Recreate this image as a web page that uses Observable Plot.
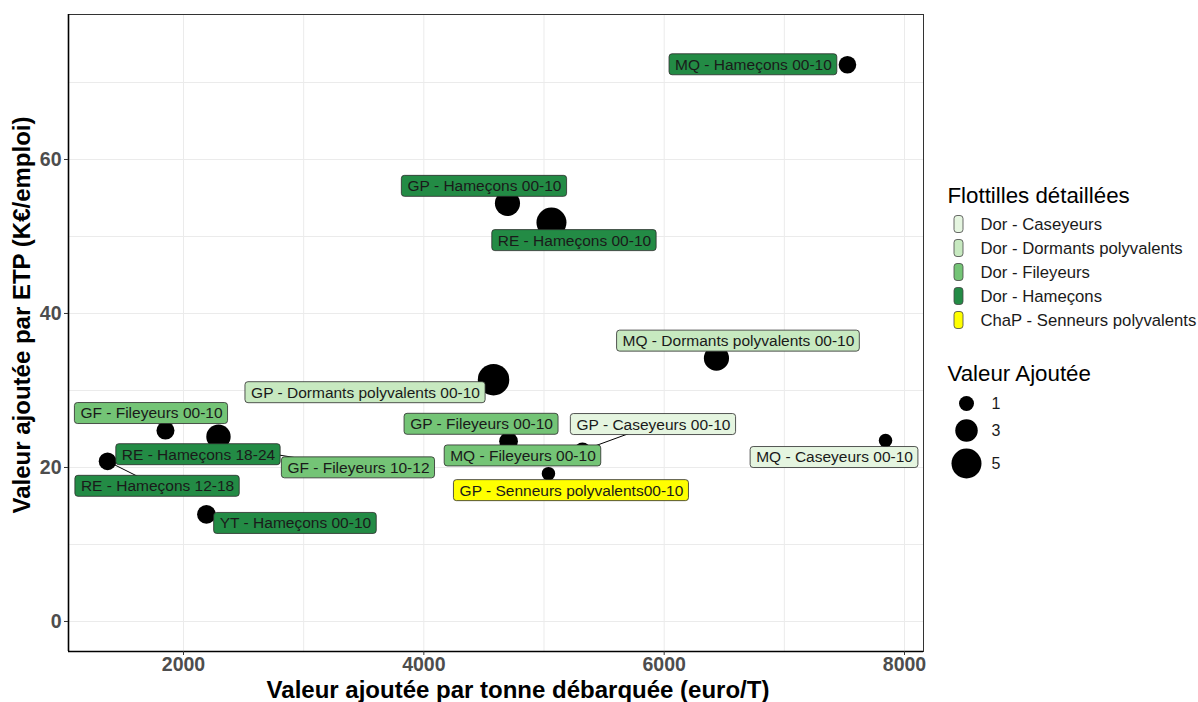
<!DOCTYPE html>
<html>
<head>
<meta charset="utf-8">
<script src="https://cdn.jsdelivr.net/npm/d3@7"></script>
<script src="https://cdn.jsdelivr.net/npm/@observablehq/plot@0.6"></script>
<style>
  body { margin: 0; background: #fff; }
  svg { font-family: "Liberation Sans", Arial, sans-serif; display: block; }
</style>
</head>
<body>
<div id="chart"></div>
<script>
// ---------- data ----------
const flottilles = [
  "MQ - Hameçons 00-10", "GP - Hameçons 00-10", "RE - Hameçons 00-10",
  "MQ - Dormants polyvalents 00-10", "GP - Dormants polyvalents 00-10",
  "GF - Fileyeurs 00-10", "RE - Hameçons 18-24", "GF - Fileyeurs 10-12",
  "RE - Hameçons 12-18", "YT - Hameçons 00-10", "GP - Fileyeurs 00-10",
  "GP - Caseyeurs 00-10", "MQ - Fileyeurs 00-10",
  "GP - Senneurs polyvalents00-10", "MQ - Caseyeurs 00-10"
];
const groupes = [
  "Dor - Hameçons", "Dor - Hameçons", "Dor - Hameçons",
  "Dor - Dormants polyvalents", "Dor - Dormants polyvalents",
  "Dor - Fileyeurs", "Dor - Hameçons", "Dor - Fileyeurs",
  "Dor - Hameçons", "Dor - Hameçons", "Dor - Fileyeurs",
  "Dor - Caseyeurs", "Dor - Fileyeurs",
  "ChaP - Senneurs polyvalents", "Dor - Caseyeurs"
];
const vaParTonne = [7525, 4696, 5062, 6435, 4580, 1850, 2291, 2682, 1368, 2191, 4705, 5320, 4800, 5037, 7842];
const vaParEtp   = [72.3, 54.3, 51.8, 34.2, 31.4, 24.8, 24.0, 21.9, 20.8, 13.9, 23.4, 22.2, 21.5, 19.2, 23.5];
const valeurAjoutee = [1.7, 3.7, 5.0, 3.7, 5.4, 1.8, 3.5, 0.8, 1.7, 2.0, 2.0, 1.3, 1.2, 0.6, 0.6];

const legendGroups = ["Dor - Caseyeurs", "Dor - Dormants polyvalents", "Dor - Fileyeurs", "Dor - Hameçons", "ChaP - Senneurs polyvalents"];
const groupColors = ["#e5f5e0", "#c7e9c0", "#74c476", "#238b45", "#ffff00"];
const sizeBreaks = [1, 3, 5];
const xTicks = [2000, 4000, 6000, 8000];
const yTicks = [0, 20, 40, 60];
const xGrid = [2000, 3000, 4000, 5000, 6000, 7000, 8000];
const yGrid = [0, 10, 20, 30, 40, 50, 60, 70];

const titreX = "Valeur ajoutée par tonne débarquée (euro/T)";
const titreY = "Valeur ajoutée par ETP (K€/emploi)";
const titreCouleur = "Flottilles détaillées";
const titreTaille = "Valeur Ajoutée";

// ---------- layout (repelled label offsets in px, from point centre) ----------
const labelOffsets = [[-94,0],[-23,-17],[23,18],[22,-17],[-128,13],[-14,-17],[-20,18],[93,15],[50,25],[89,9],[-27,-17],[71,-26],[3,0],[23,17],[-51,17]];

const W = 1198, H = 702, mL = 68, mR = 275, mT = 14, mB = 51;
const xDomain = [1043, 8158], yDomain = [-3.9, 78.83];
const rOpts = {type: "linear", domain: [1, 5], range: [7.5, 15]};
const sx = Plot.scale({x: {domain: xDomain, range: [mL, W - mR]}});
const sy = Plot.scale({y: {domain: yDomain, range: [H - mB, mT]}});
const sr = Plot.scale({r: rOpts});

const LF = 15.5, padX = 5.5, boxH = 21;
const ctx = document.createElement("canvas").getContext("2d");
ctx.font = `${LF}px "Liberation Sans"`;

const rows = flottilles.map((f, i) => {
  const px = sx.apply(vaParTonne[i]), py = sy.apply(vaParEtp[i]);
  const cx = px + labelOffsets[i][0], cy = py + labelOffsets[i][1];
  const w = ctx.measureText(f).width + 2 * padX;
  const bx1 = cx - w / 2, bx2 = cx + w / 2, by1 = cy - boxH / 2, by2 = cy + boxH / 2;
  const nx = Math.max(bx1, Math.min(px, bx2)), ny = Math.max(by1, Math.min(py, by2));
  const dist = Math.hypot(nx - px, ny - py) - sr.apply(valeurAjoutee[i]);
  return {
    f, g: groupes[i], x: vaParTonne[i], y: vaParEtp[i], v: valeurAjoutee[i],
    lx: sx.invert(cx), ly: sy.invert(cy),
    x1: sx.invert(bx1), x2: sx.invert(bx2), y1: sy.invert(by2), y2: sy.invert(by1),
    seg: dist > 4
  };
});

// legend rows
const colorLegend = legendGroups.map((g, i) => {
  const cy = 224 + i * 24;
  return {g, kx1: sx.invert(954), kx2: sx.invert(963), ky1: sy.invert(cy + 8.5), ky2: sy.invert(cy - 8.5),
          tx: sx.invert(980), ty: sy.invert(cy)};
});
const sizeY = [403, 430, 463];
const sizeLegend = sizeBreaks.map((v, i) => ({v, x: sx.invert(966), y: sy.invert(sizeY[i]), tx: sx.invert(991)}));

const plot = Plot.plot({
  width: W, height: H,
  marginLeft: mL, marginRight: mR, marginTop: mT, marginBottom: mB,
  x: {domain: xDomain},
  y: {domain: yDomain},
  r: rOpts,
  color: {domain: legendGroups, range: groupColors},
  style: {fontFamily: "'Liberation Sans', Arial, sans-serif", background: "#fff"},
  marks: [
    Plot.gridX(xGrid, {stroke: "#ebebeb", strokeOpacity: 1, strokeWidth: 1}),
    Plot.gridY(yGrid, {stroke: "#ebebeb", strokeOpacity: 1, strokeWidth: 1}),
    Plot.frame({stroke: "#333", strokeWidth: 1}),
    Plot.ruleX([xDomain[0]], {stroke: "#000", strokeWidth: 1.6}),
    Plot.ruleY([yDomain[0]], {stroke: "#000", strokeWidth: 1.6}),
    Plot.axisX(xTicks, {tickSize: 4, tickPadding: 2, tickFormat: d => String(d), fontSize: 19.5, fontWeight: "bold", fill: "#4d4d4d", stroke: "#333", label: null}),
    Plot.axisY(yTicks, {tickSize: 4, tickPadding: 3, tickFormat: d => String(d), fontSize: 19.5, fontWeight: "bold", fill: "#4d4d4d", stroke: "#333", label: null}),
    Plot.text([titreX], {text: d => d, frameAnchor: "bottom", textAnchor: "middle", lineAnchor: "middle", dx: 22, dy: 39, fontSize: 24, fontWeight: "bold", fill: "#000"}),
    Plot.text([titreY], {text: d => d, frameAnchor: "left", textAnchor: "middle", lineAnchor: "middle", rotate: -90, dx: -46, dy: -18, fontSize: 24, fontWeight: "bold", fill: "#000"}),
    Plot.dot(rows, {x: "x", y: "y", r: "v", fill: "#000", stroke: "none"}),
    Plot.link(rows.filter(d => d.seg), {x1: "x", y1: "y", x2: "lx", y2: "ly", stroke: "#000", strokeWidth: 1}),
    Plot.rect(rows, {x1: "x1", x2: "x2", y1: "y1", y2: "y2", fill: "g", stroke: "#2b2b2b", strokeWidth: 0.8, rx: 3}),
    Plot.text(rows, {x: "lx", y: "ly", text: "f", fontSize: LF, fill: "#1a1a1a"}),
    // legends
    Plot.text([titreCouleur], {text: d => d, x: sx.invert(947), y: sy.invert(195), textAnchor: "start", fontSize: 22.3, fill: "#000"}),
    Plot.rect(colorLegend, {x1: "kx1", x2: "kx2", y1: "ky1", y2: "ky2", fill: "g", stroke: "#444", strokeWidth: 0.8, rx: 3}),
    Plot.text(colorLegend, {x: "tx", y: "ty", text: "g", textAnchor: "start", fontSize: 16.7, fill: "#1a1a1a"}),
    Plot.text([titreTaille], {text: d => d, x: sx.invert(947), y: sy.invert(373), textAnchor: "start", fontSize: 22.3, fill: "#000"}),
    Plot.dot(sizeLegend, {x: "x", y: "y", r: "v", fill: "#000", sort: null}),
    Plot.text(sizeLegend, {x: "tx", y: "y", text: d => String(d.v), textAnchor: "start", fontSize: 16, fill: "#1a1a1a"})
  ]
});
document.getElementById("chart").appendChild(plot);
</script>
</body>
</html>
